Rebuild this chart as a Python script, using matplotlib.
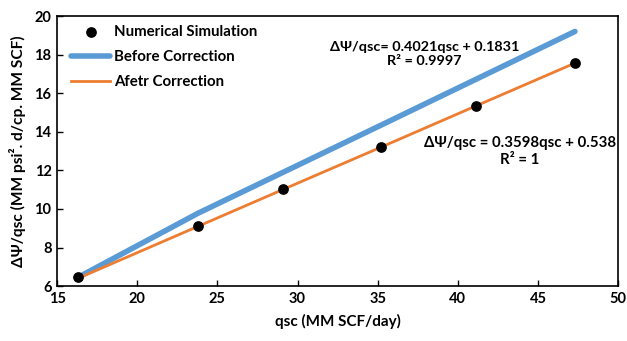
import matplotlib
matplotlib.use("Agg")
import matplotlib.pyplot as plt

qsc = [16.3, 23.8, 29.1, 35.2, 41.1, 47.3]
sim = [6.45, 9.10, 11.01, 13.20, 15.33, 17.56]
before = [6.45, 9.78, 11.90, 14.34, 16.71, 19.20]
after = [6.40, 9.10, 11.01, 13.20, 15.33, 17.56]

xticks = [15, 20, 25, 30, 35, 40, 45, 50]
yticks = [6, 8, 10, 12, 14, 16, 18, 20]

plt.rcParams['font.family'] = ['Lato', 'DejaVu Sans']
plt.rcParams['font.weight'] = 'bold'

fig = plt.figure(figsize=(6.27, 3.41), dpi=100)
ax = fig.add_axes([0.091, 0.161, 0.895, 0.792])

ax.plot(qsc, before, color='#5B9BD5', lw=4.0, solid_capstyle='round', label='Before Correction', zorder=2)
ax.plot(qsc, after, color='#ED7D31', lw=2.0, label='Afetr Correction', zorder=3)
ax.scatter(qsc, sim, s=45, color='black', label='Numerical Simulation', zorder=4)

ax.set_xlim(15, 50)
ax.set_ylim(6, 20)
ax.set_xticks(xticks)
ax.set_yticks(yticks)
ax.tick_params(direction='in', length=4, width=1, labelsize=10.5, pad=4)
for lab in ax.get_xticklabels() + ax.get_yticklabels():
    lab.set_fontweight('bold')
for s in ax.spines.values():
    s.set_linewidth(1.2)
    s.set_color('black')

ax.set_xlabel('qsc (MM SCF/day)', fontsize=11, fontweight='bold', labelpad=6)
ax.set_ylabel('ΔΨ/qsc (MM psi². d/cp. MM SCF)', fontsize=11.2, fontweight='bold', labelpad=6)

h, l = ax.get_legend_handles_labels()
order = [2, 0, 1]
leg = ax.legend([h[i] for i in order], [l[i] for i in order], loc='upper left',
                frameon=False, fontsize=10.8, handlelength=2.6, handletextpad=0.25,
                labelspacing=0.75, borderaxespad=0.0, bbox_to_anchor=(0.015, 0.99))
for t in leg.get_texts():
    t.set_fontweight('bold')

ax.text(0.655, 0.86, 'ΔΨ/qsc= 0.4021qsc + 0.1831\nR² = 0.9997', transform=ax.transAxes,
        ha='center', va='center', fontsize=10.4, fontweight='bold', linespacing=1.25)
ax.text(0.825, 0.497, 'ΔΨ/qsc = 0.3598qsc + 0.538\nR² = 1', transform=ax.transAxes,
        ha='center', va='center', fontsize=10.8, fontweight='bold', linespacing=1.25)

fig.savefig('out.png', dpi=100)
